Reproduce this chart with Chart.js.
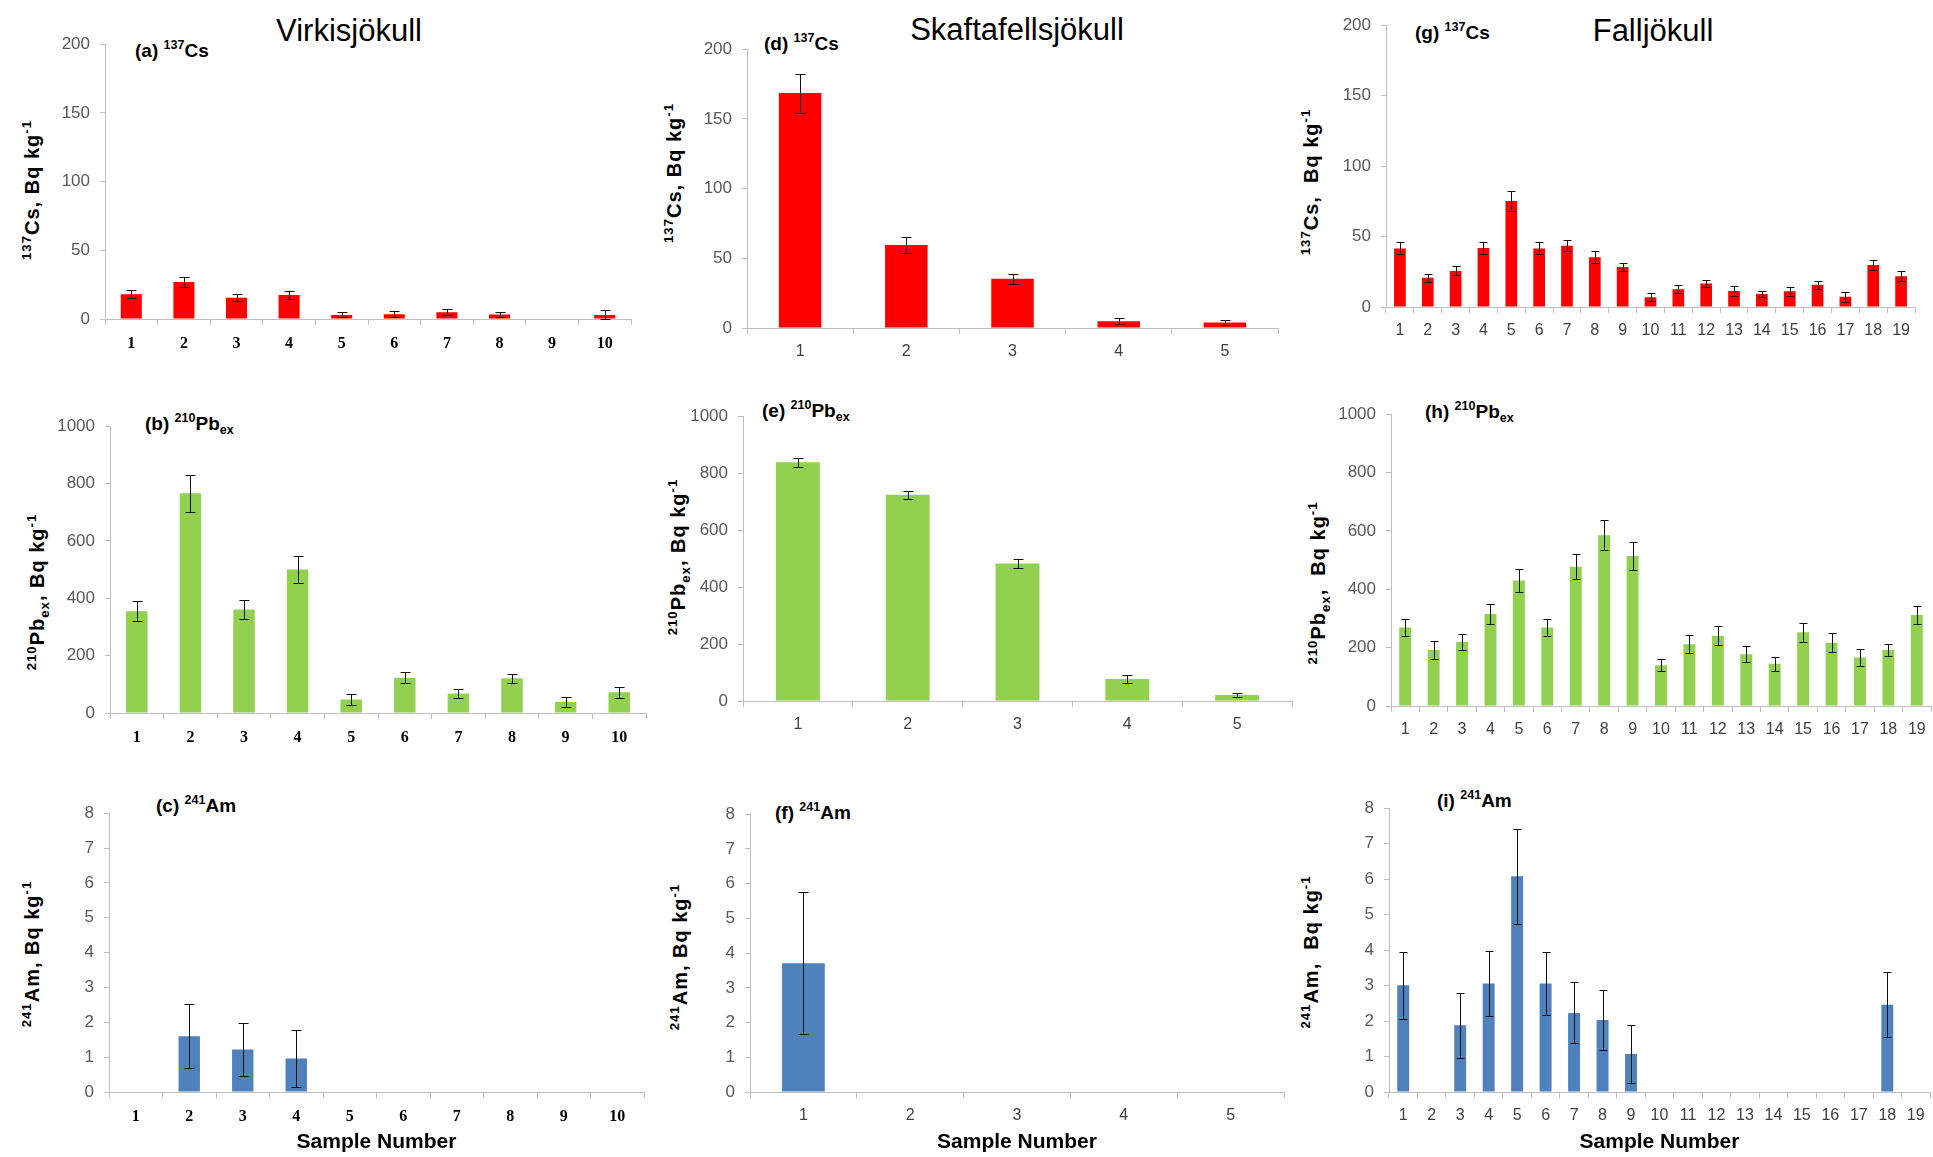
<!DOCTYPE html>
<html lang="en">
<head>
<meta charset="UTF-8">
<title>137Cs, 210Pbex and 241Am - Virkisjökull, Skaftafellsjökull, Falljökull</title>
<script src="https://cdn.jsdelivr.net/npm/chart.js"></script>
<style>
    body { margin: 0; background: #fff; }
    #fig { position: relative; width: 1933px; height: 1157px; overflow: hidden; font-family: 'Liberation Sans', Arial, sans-serif; color: #000; }
    #fig canvas { position: absolute; }
    .t { position: absolute; white-space: nowrap; line-height: 1; }
    .title { font-size: 31px; transform: translate(-50%, -50%); }
    .plab { font-weight: bold; font-size: 19px; transform: translateY(-50%); }
    .ylab { font-weight: bold; font-size: 20px; letter-spacing: 1px; transform: translate(-50%, -50%) rotate(-90deg); }
    sup, sub { font-size: 66%; line-height: 0; }
</style>
</head>
<body>
<div id="fig">
    <div class="t title" style="left:349px; top:30px;">Virkisjökull</div>
    <div class="t title" style="left:1017px; top:29px;">Skaftafellsjökull</div>
    <div class="t title" style="left:1653px; top:30px;">Falljökull</div>

    <div class="t plab" style="left:135px; top:50px;">(a) <sup>137</sup>Cs</div>
    <div class="t plab" style="left:145px; top:423px;">(b) <sup>210</sup>Pb<sub>ex</sub></div>
    <div class="t plab" style="left:156px; top:805px;">(c) <sup>241</sup>Am</div>
    <div class="t plab" style="left:764px; top:43px;">(d) <sup>137</sup>Cs</div>
    <div class="t plab" style="left:762px; top:410px;">(e) <sup>210</sup>Pb<sub>ex</sub></div>
    <div class="t plab" style="left:775px; top:812px;">(f) <sup>241</sup>Am</div>
    <div class="t plab" style="left:1415px; top:32px;">(g) <sup>137</sup>Cs</div>
    <div class="t plab" style="left:1425px; top:411px;">(h) <sup>210</sup>Pb<sub>ex</sub></div>
    <div class="t plab" style="left:1437px; top:800px;">(i) <sup>241</sup>Am</div>

    <div class="t ylab" style="left:32px; top:190px;"><sup>137</sup>Cs, Bq kg<sup>-1</sup></div>
    <div class="t ylab" style="left:37px; top:592px;"><sup>210</sup>Pb<sub>ex</sub>, Bq kg<sup>-1</sup></div>
    <div class="t ylab" style="left:32px; top:954px;"><sup>241</sup>Am, Bq kg<sup>-1</sup></div>
    <div class="t ylab" style="left:674px; top:173px;"><sup>137</sup>Cs, Bq kg<sup>-1</sup></div>
    <div class="t ylab" style="left:678px; top:557px;"><sup>210</sup>Pb<sub>ex</sub>, Bq kg<sup>-1</sup></div>
    <div class="t ylab" style="left:680px; top:957px;"><sup>241</sup>Am, Bq kg<sup>-1</sup></div>
    <div class="t ylab" style="left:1311px; top:182px;"><sup>137</sup>Cs, &nbsp;Bq kg<sup>-1</sup></div>
    <div class="t ylab" style="left:1318px; top:583px;"><sup>210</sup>Pb<sub>ex</sub>, &nbsp;Bq kg<sup>-1</sup></div>
    <div class="t ylab" style="left:1311px; top:952px;"><sup>241</sup>Am, &nbsp;Bq kg<sup>-1</sup></div>
</div>

<script>
    // sample numbers
    const samples10 = ['1', '2', '3', '4', '5', '6', '7', '8', '9', '10'];
    const samples5 = ['1', '2', '3', '4', '5'];
    const samples19 = ['1', '2', '3', '4', '5', '6', '7', '8', '9', '10', '11', '12', '13', '14', '15', '16', '17', '18', '19'];

    // Virkisjökull
    const virkCs = [18, 27, 15.5, 17.4, 3, 3.5, 5, 3.3, 0, 3];
    const virkCsErr = [3, 3.5, 2.5, 3, 1.8, 2, 2, 1.7, 0, 3.2];
    const virkPb = [355, 766, 361, 500, 47, 123, 68, 121, 38, 72];
    const virkPbErr = [34, 65, 34, 46, 19, 20, 17, 16, 17, 18];
    const virkAm = [0, 1.6, 1.22, 0.96, 0, 0, 0, 0, 0, 0];
    const virkAmErr = [0, 0.92, 0.77, 0.82, 0, 0, 0, 0, 0, 0];

    // Skaftafellsjökull
    const skaftCs = [168.5, 59.5, 35.3, 4.9, 4];
    const skaftCsErr = [14, 6, 3.5, 2.2, 1.8];
    const skaftPb = [838, 724, 483, 77, 21];
    const skaftPbErr = [15, 14, 16, 13, 8];
    const skaftAm = [3.71, 0, 0, 0, 0];
    const skaftAmErr = [2.04, 0, 0, 0, 0];

    // Falljökull
    const fallCs = [41.6, 20.7, 25.6, 41.9, 75.3, 41.6, 43.5, 35.3, 28.4, 7, 12.6, 16.7, 11.4, 9.3, 11.2, 15.8, 7.2, 29.8, 21.9];
    const fallCsErr = [4.2, 3, 3.2, 4.4, 7, 4.2, 4, 4.2, 2.5, 2.8, 3, 2.3, 3.3, 2.3, 3.2, 2.8, 3.3, 3.5, 3.7];
    const fallPb = [269, 192, 220, 315, 430, 269, 477, 585, 514, 140, 212, 241, 177, 145, 253, 217, 166, 192, 312];
    const fallPbErr = [30, 32, 27, 35, 39, 28, 43, 51, 47, 20, 32, 33, 27, 24, 32, 32, 30, 21, 30];
    const fallAm = [3.01, 0, 1.88, 3.06, 6.08, 3.06, 2.23, 2.03, 1.07, 0, 0, 0, 0, 0, 0, 0, 0, 2.46, 0];
    const fallAmErr = [0.94, 0, 0.91, 0.91, 1.34, 0.88, 0.86, 0.85, 0.83, 0, 0, 0, 0, 0, 0, 0, 0, 0.91, 0];

    const RED = '#ff0000';
    const GREEN = '#92d050';
    const BLUE = '#4f81bd';
    const AXIS = '#bfbfbf';
    const SANS = "'Liberation Sans', Arial, sans-serif";

    // plot areas [left, top, right, bottom] in page pixels
    const panels = [
        {labels: samples10, values: virkCs, errors: virkCsErr, color: RED, max: 200, step: 50, area: [105, 39, 631, 319], serif: true, bar: 0.4, cap: 5},
        {labels: samples10, values: virkPb, errors: virkPbErr, color: GREEN, max: 1000, step: 200, area: [110, 421, 646, 713], serif: true, bar: 0.4, cap: 5},
        {labels: samples10, values: virkAm, errors: virkAmErr, color: BLUE, max: 8, step: 1, area: [109, 808, 644, 1092], serif: true, bar: 0.4, cap: 5, xTitle: true},
        {labels: samples5, values: skaftCs, errors: skaftCsErr, color: RED, max: 200, step: 50, area: [747, 44, 1278, 328], bar: 0.4, cap: 5},
        {labels: samples5, values: skaftPb, errors: skaftPbErr, color: GREEN, max: 1000, step: 200, area: [743, 411, 1292, 701], bar: 0.4, cap: 5},
        {labels: samples5, values: skaftAm, errors: skaftAmErr, color: BLUE, max: 8, step: 1, area: [750, 809, 1284, 1092], bar: 0.4, cap: 5, xTitle: true},
        {labels: samples19, values: fallCs, errors: fallCsErr, color: RED, max: 200, step: 50, area: [1386, 20, 1915, 307], bar: 0.42, cap: 4},
        {labels: samples19, values: fallPb, errors: fallPbErr, color: GREEN, max: 1000, step: 200, area: [1391, 409, 1931, 706], bar: 0.42, cap: 4},
        {labels: samples19, values: fallAm, errors: fallAmErr, color: BLUE, max: 8, step: 1, area: [1389, 803, 1930, 1092], bar: 0.42, cap: 4, xTitle: true}
    ];

    // error bars drawn from the values through the y scale
    const errorBars = {
        id: 'errorBars',
        afterDatasetsDraw(chart, args, opts) {
            const ds = chart.data.datasets[0];
            const meta = chart.getDatasetMeta(0);
            const y = chart.scales.y;
            const ctx = chart.ctx;
            const cap = opts.cap || 4;
            ctx.save();
            ctx.strokeStyle = '#111';
            ctx.lineWidth = 1;
            meta.data.forEach((bar, i) => {
                const v = ds.data[i];
                const e = ds.errors[i];
                if (!v || !e) return;
                const x = Math.round(bar.x) + 0.5;
                const top = Math.round(y.getPixelForValue(v + e)) + 0.5;
                const bottom = Math.round(y.getPixelForValue(Math.max(v - e, 0))) + 0.5;
                ctx.beginPath();
                ctx.moveTo(x, top); ctx.lineTo(x, bottom);
                ctx.moveTo(x - cap, top); ctx.lineTo(x + cap, top);
                ctx.moveTo(x - cap, bottom); ctx.lineTo(x + cap, bottom);
                ctx.stroke();
            });
            ctx.restore();
        }
    };

    const fig = document.getElementById('fig');

    panels.forEach(p => {
        const [l, t, r, b] = p.area;
        const yw = 64;
        const padTop = 15;
        const padRight = 8;
        const left = l - yw;
        const top = t - padTop;
        const width = r + padRight - left;
        const height = p.xTitle ? 1157 - top : b + 45 - top;
        const xh = top + height - b;

        const canvas = document.createElement('canvas');
        canvas.width = width;
        canvas.height = height;
        canvas.style.left = left + 'px';
        canvas.style.top = top + 'px';
        canvas.style.width = width + 'px';
        canvas.style.height = height + 'px';
        fig.appendChild(canvas);

        new Chart(canvas.getContext('2d'), {
            type: 'bar',
            data: {
                labels: p.labels,
                datasets: [{
                    data: p.values,
                    errors: p.errors,
                    backgroundColor: p.color,
                    borderWidth: 0,
                    barPercentage: p.bar,
                    categoryPercentage: 1
                }]
            },
            options: {
                responsive: false,
                animation: false,
                devicePixelRatio: 1,
                layout: {padding: {top: padTop, right: padRight, left: 0, bottom: 0}},
                plugins: {legend: {display: false}, tooltip: {enabled: false}, errorBars: {cap: p.cap}},
                scales: {
                    x: {
                        type: 'category',
                        afterFit: s => { s.height = xh; },
                        border: {display: true, color: AXIS, width: 1},
                        grid: {display: true, drawOnChartArea: false, drawTicks: true, tickLength: 6, offset: true, color: AXIS},
                        ticks: {
                            autoSkip: false,
                            maxRotation: 0,
                            padding: p.serif ? 9 : 8,
                            color: p.serif ? '#000' : '#404040',
                            font: p.serif
                                ? {family: "'Liberation Serif', 'Times New Roman', serif", size: 16, weight: 'bold'}
                                : {family: SANS, size: 16}
                        },
                        title: {
                            display: !!p.xTitle,
                            text: 'Sample Number',
                            color: '#000',
                            padding: {top: 0, bottom: 2},
                            font: {family: SANS, size: 21, weight: 'bold'}
                        }
                    },
                    y: {
                        min: 0,
                        max: p.max,
                        afterFit: s => { s.width = yw; },
                        border: {display: true, color: AXIS, width: 1},
                        grid: {display: true, drawOnChartArea: false, drawTicks: true, tickLength: 5, color: AXIS},
                        ticks: {
                            stepSize: p.step,
                            padding: 10,
                            color: '#595959',
                            font: {family: SANS, size: 17},
                            callback: v => String(v)
                        }
                    }
                }
            },
            plugins: [errorBars]
        });
    });
</script>
</body>
</html>
